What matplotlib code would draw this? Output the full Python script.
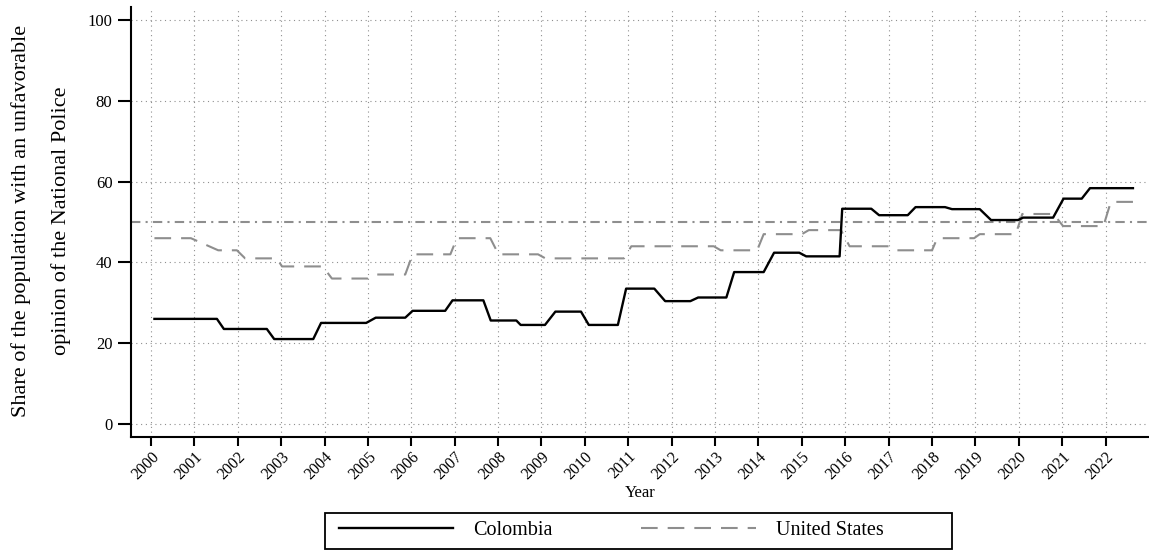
import matplotlib
matplotlib.use("Agg")
import matplotlib.pyplot as plt
from matplotlib.patches import Rectangle

plt.rcParams['font.family'] = ['Liberation Serif', 'DejaVu Serif']

# Share with an unfavorable opinion of the national police (breakpoints of each series)
col_t = [2000.08, 2001.52, 2001.68, 2002.67, 2002.84, 2003.74, 2003.92, 2004.96,
         2005.18, 2005.86, 2006.03, 2006.78, 2006.95, 2007.66, 2007.83, 2008.42,
         2008.52, 2009.08, 2009.32, 2009.91, 2010.09, 2010.76, 2010.95, 2011.60,
         2011.85, 2012.43, 2012.61, 2013.26, 2013.44, 2014.12, 2014.36, 2014.94,
         2015.10, 2015.87, 2015.93, 2016.60, 2016.78, 2017.44, 2017.62, 2018.30,
         2018.46, 2019.10, 2019.36, 2019.98, 2020.10, 2020.79, 2021.03, 2021.45,
         2021.64, 2022.63]
col_v = [26.0, 26.0, 23.5, 23.5, 21.0, 21.0, 25.0, 25.0,
         26.3, 26.3, 28.0, 28.0, 30.6, 30.6, 25.6, 25.6,
         24.5, 24.5, 27.8, 27.8, 24.5, 24.5, 33.5, 33.5,
         30.4, 30.4, 31.3, 31.3, 37.6, 37.6, 42.4, 42.4,
         41.5, 41.5, 53.3, 53.3, 51.7, 51.7, 53.7, 53.7,
         53.2, 53.2, 50.5, 50.5, 51.1, 51.1, 55.8, 55.8,
         58.4, 58.4]

us_t = [2000.08, 2000.92, 2001.55, 2001.98, 2002.17, 2002.90, 2003.02, 2003.96,
        2004.17, 2005.00, 2005.20, 2005.86, 2006.03, 2006.90, 2007.05, 2007.82,
        2008.01, 2008.92, 2009.09, 2010.90, 2011.07, 2012.97, 2013.13, 2013.97,
        2014.12, 2015.00, 2015.16, 2015.90, 2016.10, 2017.00, 2017.16, 2018.00,
        2018.12, 2018.97, 2019.10, 2019.93, 2020.08, 2020.80, 2021.02, 2021.95,
        2022.12, 2022.63]
us_v = [46, 46, 43, 43, 41, 41, 39, 39,
        36, 36, 37, 37, 42, 42, 46, 46,
        42, 42, 41, 41, 44, 44, 43, 43,
        47, 47, 48, 48, 44, 44, 43, 43,
        46, 46, 47, 47, 52, 52, 49, 49,
        55, 55]

reference_level = 50
years = list(range(2000, 2023))
y_ticks = [0, 20, 40, 60, 80, 100]

GRAY = '#8e8e8e'
W, H = 1149, 550

fig = plt.figure(figsize=(W / 100, H / 100), dpi=100)
ax = fig.add_axes([131 / W, 1 - 436.7 / H, (W - 131) / W, (436.7 - 7) / H])

ax.set_xlim(1999.54, 2023.0)
ax.set_ylim(-3.2, 103.3)

ax.grid(True, linestyle=(0, (1, 3.3)), color='#8f8f8f', linewidth=0.8)
ax.set_axisbelow(True)

ax.axhline(reference_level, color=GRAY, linewidth=1.5,
           linestyle=(0, (4.5, 2.5, 1, 2.5)), zorder=2)

ax.plot(col_t, col_v, color='black', linewidth=1.7, label='Colombia', zorder=4)
ax.plot(us_t, us_v, color=GRAY, linewidth=1.5, linestyle=(0, (8, 4.8)),
        label='United States', zorder=3)

ax.set_xticks(years)
ax.set_xticklabels([str(y) for y in years], rotation=45, ha='right',
                   rotation_mode='anchor', fontsize=11.5)
ax.set_yticks(y_ticks)
ax.set_yticklabels([str(v) for v in y_ticks], fontsize=12)
ax.tick_params(axis='x', direction='out', length=6.5, width=1.5, color='black', pad=2)
ax.tick_params(axis='y', direction='out', length=9.4, width=1.5, color='black', pad=4)

for side in ('top', 'right'):
    ax.spines[side].set_visible(False)
for side in ('left', 'bottom'):
    ax.spines[side].set_linewidth(1.5)

ax.set_xlabel('Year', fontsize=12, labelpad=2)

fig.text(41 / W, 1 - 221 / H,
         'Share of the population with an unfavorable\nopinion of the National Police',
         rotation=90, ha='center', va='center', multialignment='center',
         fontsize=16, linespacing=2.3)

# Legend entries, with a separate frame drawn around them
handles, labels = ax.get_legend_handles_labels()
leg = fig.legend(handles, labels, loc='center left',
                 bbox_to_anchor=(339 / W, 1 - 530.5 / H), ncol=2,
                 frameon=False, fontsize=14.5, handlelength=5.67,
                 columnspacing=4.4, handletextpad=1.0, borderpad=0.0,
                 borderaxespad=0.0)
fig.patches.append(Rectangle((325 / W, 1 - 548.5 / H), (952 - 325) / W, 35.5 / H,
                             transform=fig.transFigure, fill=False,
                             edgecolor='black', linewidth=1.3))

fig.savefig('out.png', dpi=100)
